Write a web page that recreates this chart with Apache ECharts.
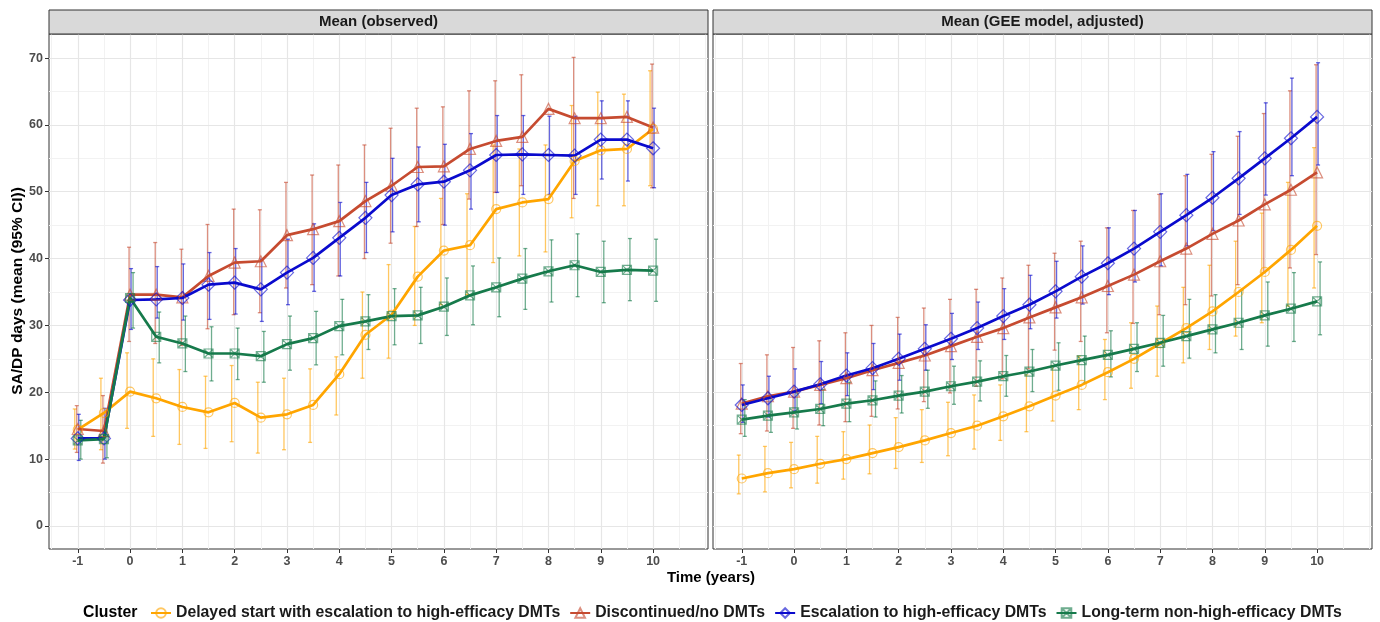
<!DOCTYPE html>
<html><head><meta charset="utf-8">
<script src="https://cdn.jsdelivr.net/npm/echarts@6/dist/echarts.min.js"></script>
<style>html,body{margin:0;padding:0;background:#fff}#c{width:1380px;height:622px}</style>
</head><body><div id="c"></div>
<script>
// ---------------- DATA ----------------
const times = [-1,-0.5,0,0.5,1,1.5,2,2.5,3,3.5,4,4.5,5,5.5,6,6.5,7,7.5,8,8.5,9,9.5,10];
const xTickLabels = [-1,0,1,2,3,4,5,6,7,8,9,10];
const yTickLabels = [0,10,20,30,40,50,60,70];
const clusterNames = ['Delayed start with escalation to high-efficacy DMTs','Discontinued/no DMTs','Escalation to high-efficacy DMTs','Long-term non-high-efficacy DMTs'];
const panelTitles = ['Mean (observed)','Mean (GEE model, adjusted)'];

// Observed means and 95% CI
const obsDelayedMean = [14.4,16.9,20.1,19.1,17.8,17.0,18.4,16.2,16.7,18.1,22.7,28.6,31.6,37.3,41.2,42.0,47.4,48.4,48.9,54.6,56.2,56.4,59.4];
const obsDelayedLow  = [11.5,11.4,14.6,13.4,12.2,11.6,12.6,10.9,11.4,12.5,16.6,22.1,25.1,30.0,33.1,34.6,39.4,40.4,41.0,46.1,47.9,47.9,50.9];
const obsDelayedHigh = [17.5,22.1,25.9,25.0,23.4,22.4,24.0,21.5,22.1,23.5,25.3,35.0,39.1,44.8,49.0,49.7,57.0,56.4,57.0,62.9,64.9,64.6,68.1];

const obsDiscontMean = [14.5,14.2,34.6,34.6,34.2,37.4,39.4,39.6,43.5,44.4,45.6,48.6,50.9,53.7,53.8,56.4,57.6,58.2,62.4,61.0,61.0,61.2,59.6];
const obsDiscontLow  = [11.0,9.4,27.6,27.3,27.0,29.5,31.6,31.9,35.6,36.1,37.4,40.0,42.3,44.8,45.1,48.9,49.9,50.9,null,49.0,null,null,50.6];
const obsDiscontHigh = [18.0,19.5,41.7,42.4,41.4,45.1,47.4,47.3,51.4,52.5,54.0,57.0,59.5,62.5,62.7,65.1,66.6,67.5,null,70.1,null,null,69.1];

const obsEscalMean = [13.1,13.1,33.8,33.9,34.1,36.1,36.4,35.4,37.9,40.1,43.1,46.1,49.5,51.1,51.5,53.2,55.5,55.6,55.5,55.4,57.8,57.8,56.5];
const obsEscalLow  = [9.8,10.0,29.4,31.1,30.8,30.9,31.7,30.6,33.1,35.1,37.4,40.9,44.0,45.5,45.0,47.4,49.9,49.6,49.6,49.6,51.9,51.6,50.6];
const obsEscalHigh = [16.7,17.6,38.5,38.8,39.2,40.9,41.5,39.9,42.9,45.2,48.4,51.4,55.0,56.7,57.1,58.7,61.4,61.4,61.3,61.3,63.6,63.6,62.5];

const obsLongMean = [12.8,13.0,34.1,28.3,27.3,25.8,25.8,25.4,27.2,28.1,29.9,30.6,31.4,31.5,32.8,34.5,35.7,37.0,38.1,39.0,38.0,38.3,38.2];
const obsLongLow  = [10.0,10.2,29.6,24.4,23.1,21.7,21.9,21.5,23.3,24.1,25.6,26.4,27.1,27.3,28.5,30.1,31.3,32.4,33.5,34.3,33.4,33.7,33.6];
const obsLongHigh = [15.8,16.3,37.9,32.0,31.4,29.8,29.6,29.1,31.4,32.1,33.9,34.6,35.5,35.7,37.1,38.9,40.1,41.5,42.8,43.7,42.6,43.0,42.9];

// GEE model (adjusted) means and 95% CI
const geeDelayedMean = [7.1,7.9,8.5,9.3,10.0,10.9,11.8,12.8,13.9,15.0,16.4,17.9,19.5,21.1,23.0,25.0,27.3,29.6,32.1,35.0,38.0,41.3,44.9];
const geeDelayedLow  = [4.8,5.1,5.7,6.4,7.0,7.8,8.6,9.5,10.5,11.5,12.8,14.1,15.7,17.4,18.9,20.6,22.4,24.4,26.4,28.4,30.4,32.9,35.6];
const geeDelayedHigh = [10.6,11.9,12.5,13.4,14.1,15.1,16.2,17.4,18.5,19.6,21.1,22.6,24.0,25.4,27.9,30.4,32.9,35.7,39.0,42.6,46.8,51.4,56.6];

const geeDiscontMean = [18.3,19.4,20.1,21.1,22.1,23.3,24.4,25.5,26.9,28.3,29.6,31.2,32.7,34.2,35.9,37.6,39.6,41.5,43.7,45.7,48.1,50.3,52.9];
const geeDiscontLow  = [13.8,14.2,14.6,15.1,15.6,16.4,17.5,18.6,19.9,20.9,22.0,23.5,26.3,27.6,28.9,30.3,31.6,33.1,34.4,36.1,37.9,38.6,40.6];
const geeDiscontHigh = [24.3,25.6,26.7,27.7,28.9,30.0,31.2,32.6,33.9,35.4,37.1,39.0,40.8,42.6,44.6,47.2,49.6,52.4,55.6,58.3,61.7,65.1,69.0];

const geeEscalMean = [18.1,19.1,20.1,21.2,22.5,23.6,25.0,26.5,28.0,29.6,31.4,33.1,35.1,37.3,39.3,41.5,44.0,46.5,49.1,52.0,55.0,58.0,61.2];
const geeEscalLow  = [15.5,16.3,17.2,18.3,19.5,20.4,21.8,23.3,24.9,26.4,27.9,29.5,31.1,33.2,34.6,36.5,38.9,41.9,44.2,46.6,49.5,52.4,54.0];
const geeEscalHigh = [21.1,22.4,23.5,24.6,25.9,27.3,28.7,30.1,31.8,33.5,35.5,37.5,39.6,41.9,44.6,47.2,49.7,52.6,56.0,59.0,63.3,67.0,69.3];

const geeLongMean = [15.9,16.5,17.0,17.5,18.3,18.8,19.5,20.1,20.9,21.6,22.4,23.1,24.0,24.8,25.6,26.5,27.4,28.4,29.4,30.4,31.5,32.5,33.6];
const geeLongLow  = [13.4,14.0,14.5,15.0,15.6,16.3,16.9,17.6,18.2,18.7,19.4,20.1,20.3,21.4,22.3,23.1,23.9,25.1,25.9,26.4,26.9,27.6,28.6];
const geeLongHigh = [18.9,19.4,19.9,20.4,21.5,21.7,22.5,23.3,23.9,24.7,25.5,26.4,27.4,28.4,29.2,30.4,31.5,33.9,34.6,35.3,36.5,37.9,39.5];

// ---------------- STYLE ----------------
const FONT = "'Liberation Sans', Arial, sans-serif";
const colors = ['#FFA500', '#C64B30', '#0A0ACD', '#167A4B'];
const colorsA = ['rgba(255,165,0,0.62)', 'rgba(198,75,48,0.62)', 'rgba(10,10,205,0.62)', 'rgba(22,122,75,0.62)'];
const symbols = ['circle', 'triangle', 'diamond', 'path://M0 0H10V10H0Z M0 0L10 10 M10 0L0 10'];
const symbolSizes = [9, 11, 13, 9];
const dodge = [-3, -1, 1, 3];

const panels = [
  [[obsDelayedMean,obsDelayedLow,obsDelayedHigh],[obsDiscontMean,obsDiscontLow,obsDiscontHigh],[obsEscalMean,obsEscalLow,obsEscalHigh],[obsLongMean,obsLongLow,obsLongHigh]],
  [[geeDelayedMean,geeDelayedLow,geeDelayedHigh],[geeDiscontMean,geeDiscontLow,geeDiscontHigh],[geeEscalMean,geeEscalLow,geeEscalHigh],[geeLongMean,geeLongLow,geeLongHigh]]
];

const X_MIN = -1.55, X_MAX = 11.05, Y_MIN = -3.45, Y_MAX = 73.6;
const gridPos = [{left: 49, top: 34, width: 659, height: 515}, {left: 713, top: 34, width: 659, height: 515}];

const chart = echarts.init(document.getElementById('c'), null, {renderer: 'canvas'});

function errRender(ci, off) {
  return function (params, api) {
    const t = api.value(0), lo = api.value(1), hi = api.value(2);
    const p1 = api.coord([t, lo]), p2 = api.coord([t, hi]);
    const x = p1[0] + off, cw = 2;
    const st = {stroke: colorsA[ci], lineWidth: 1.3};
    return {type: 'group', children: [
      {type: 'line', shape: {x1: x, y1: p1[1], x2: x, y2: p2[1]}, style: st},
      {type: 'line', shape: {x1: x - cw, y1: p1[1], x2: x + cw, y2: p1[1]}, style: st},
      {type: 'line', shape: {x1: x - cw, y1: p2[1], x2: x + cw, y2: p2[1]}, style: st}
    ]};
  };
}

// grid line values (major at ticks, minor halfway)
const xMinor = [-1.5,-0.5,0.5,1.5,2.5,3.5,4.5,5.5,6.5,7.5,8.5,9.5,10.5,11];
const yMinor = [5,15,25,35,45,55,65];

const series = [];
for (let p = 0; p < 2; p++) {
  const gl = [];
  xMinor.forEach(v => gl.push({xAxis: v, lineStyle: {color: '#F2F2F2', width: 1, type: 'solid'}}));
  yMinor.forEach(v => gl.push({yAxis: v, lineStyle: {color: '#F2F2F2', width: 1, type: 'solid'}}));
  xTickLabels.forEach(v => gl.push({xAxis: v, lineStyle: {color: '#E6E6E6', width: 1.2, type: 'solid'}}));
  yTickLabels.forEach(v => gl.push({yAxis: v, lineStyle: {color: '#E6E6E6', width: 1.2, type: 'solid'}}));
  series.push({
    type: 'line', name: 'grid' + p, xAxisIndex: p, yAxisIndex: p, data: [], z: 0, silent: true,
    markLine: {silent: true, symbol: ['none', 'none'], label: {show: false}, animation: false, data: gl, z: 0}
  });
  for (let c = 0; c < 4; c++) {
    const [m, lo, hi] = panels[p][c];
    const eb = [];
    times.forEach((t, i) => { if (lo[i] != null && hi[i] != null) eb.push([t, lo[i], hi[i]]); });
    series.push({
      type: 'custom', name: clusterNames[c] + ' (95% CI)', xAxisIndex: p, yAxisIndex: p, z: 2,
      renderItem: errRender(c, dodge[c]), data: eb, encode: {x: 0, y: [1, 2]}, silent: true
    });
  }
}
for (let p = 0; p < 2; p++) {
  for (let c = 0; c < 4; c++) {
    const m = panels[p][c][0];
    series.push({
      type: 'line', name: clusterNames[c], xAxisIndex: p, yAxisIndex: p, z: 3,
      data: times.map((t, i) => [t, m[i]]),
      symbol: symbols[c], symbolSize: symbolSizes[c], showSymbol: true, showAllSymbol: true,
      lineStyle: {color: colors[c], width: 2.7},
      itemStyle: {color: 'rgba(255,255,255,0)', borderColor: colorsA[c], borderWidth: 1.2},
      emphasis: {disabled: true}, silent: true
    });
  }
}

const xAxes = [0, 1].map(p => ({
  type: 'value', gridIndex: p, min: X_MIN, max: X_MAX,
  axisLine: {show: false, onZero: false},
  axisTick: {show: true, length: 4, customValues: xTickLabels, lineStyle: {color: '#333', width: 1}},
  axisLabel: {show: true, customValues: xTickLabels, color: '#4D4D4D', fontWeight: 'bold', fontSize: 12.5, fontFamily: FONT, margin: 6},
  splitLine: {show: false}
}));
const yAxes = [0, 1].map(p => ({
  type: 'value', gridIndex: p, min: Y_MIN, max: Y_MAX,
  axisLine: {show: false, onZero: false},
  axisTick: {show: p === 0, length: 4, customValues: yTickLabels, lineStyle: {color: '#333', width: 1}},
  axisLabel: {show: p === 0, customValues: yTickLabels, color: '#4D4D4D', fontWeight: 'bold', fontSize: 12.5, fontFamily: FONT, margin: 6},
  splitLine: {show: false}
}));

const graphics = [];
panelTitles.forEach((t, p) => {
  const g = gridPos[p];
  graphics.push({type: 'rect', shape: {x: g.left, y: 10, width: g.width, height: 24},
    style: {fill: '#D9D9D9', stroke: '#333', lineWidth: 1}, z: 10, silent: true});
  graphics.push({type: 'text', x: g.left + g.width / 2, y: 22, z: 11, silent: true,
    style: {text: t, textAlign: 'center', textVerticalAlign: 'middle', font: 'bold 15px ' + FONT, fill: '#1A1A1A'}});
});
graphics.push({type: 'text', x: 18, y: 291, rotation: Math.PI / 2, silent: true,
  style: {text: 'SA/DP days (mean (95% CI))', textAlign: 'center', textVerticalAlign: 'middle', font: 'bold 15.5px ' + FONT, fill: '#000'}});
graphics.push({type: 'text', x: 711, y: 578, silent: true,
  style: {text: 'Time (years)', textAlign: 'center', textVerticalAlign: 'middle', font: 'bold 15px ' + FONT, fill: '#000'}});
graphics.push({type: 'text', x: 83, y: 613, silent: true,
  style: {text: 'Cluster', textAlign: 'left', textVerticalAlign: 'middle', font: 'bold 15.8px ' + FONT, fill: '#000'}});

chart.setOption({
  animation: false,
  backgroundColor: '#fff',
  grid: gridPos.map(g => Object.assign({show: true, borderColor: '#333', borderWidth: 1, backgroundColor: '#fff', containLabel: false}, g)),
  xAxis: xAxes,
  yAxis: yAxes,
  legend: {
    data: clusterNames, left: 150, top: 605, padding: 0, itemWidth: 20, itemHeight: 12, itemGap: 9,
    textStyle: {fontSize: 15.8, fontWeight: 'bold', color: '#1A1A1A', fontFamily: FONT},
    selectedMode: false
  },
  graphic: graphics,
  series: series
});
</script>
</body></html>
